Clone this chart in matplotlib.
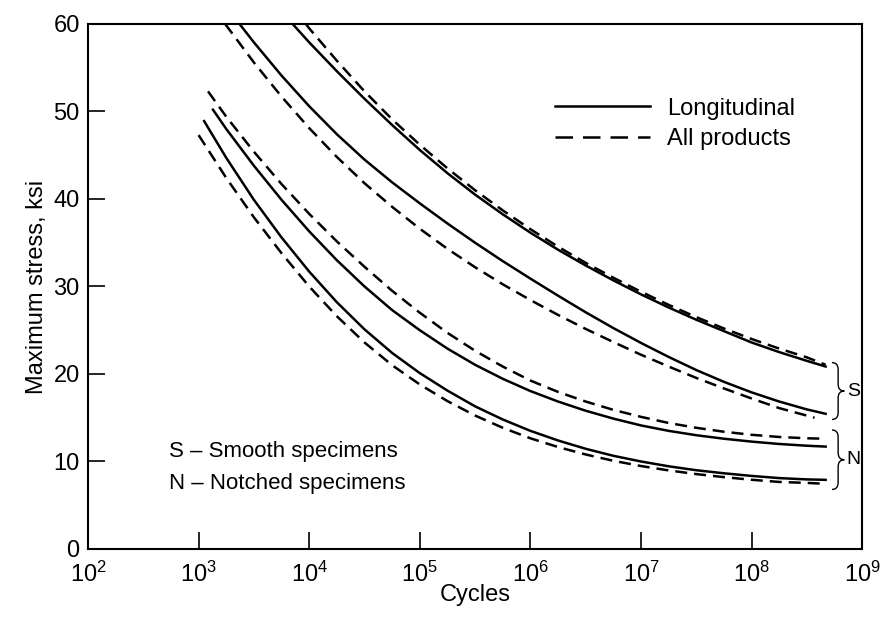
import numpy as np
import matplotlib.pyplot as plt
from matplotlib.path import Path
from matplotlib.patches import PathPatch
import matplotlib.transforms as mtransforms

plt.rcParams['font.family'] = ['Liberation Sans', 'DejaVu Sans']

# log10(cycles) and max stress (ksi)
# S = smooth specimens, N = notched specimens
q = [4.0, 4.25, 4.5, 4.75, 5.0, 5.25, 5.5, 5.75, 6.0, 6.25, 6.5, 6.75,
     7.0, 7.25, 7.5, 7.75, 8.0, 8.25, 8.5]

s_long_hi_x = [3.85] + q + [8.67]
s_long_hi_y = [60, 57.9, 54.6, 51.45, 48.45, 45.6, 42.95, 40.5, 38.25, 36.15, 34.2, 32.4,
               30.7, 29.1, 27.6, 26.2, 24.9, 23.6, 22.5, 21.5, 20.85]
s_all_hi_x = [3.97] + q + [8.67]
s_all_hi_y = [60, 59.5, 55.8, 52.3, 49.1, 46.2, 43.5, 41.0, 38.7, 36.55, 34.55, 32.7,
              31.0, 29.4, 27.9, 26.5, 25.2, 24.0, 22.9, 21.9, 21.05]

s_long_lo_x = [3.37, 3.5, 3.75] + q + [8.67]
s_long_lo_y = [60, 57.9, 54.1, 50.6, 47.4, 44.5, 41.9, 39.5, 37.2, 35.0, 32.9, 30.9,
               28.95, 27.05, 25.25, 23.55, 21.95, 20.45, 19.1, 17.9, 16.85, 15.95, 15.45]
s_all_lo_x = [3.24, 3.5, 3.75] + q[:-1] + [8.57]
s_all_lo_y = [60, 55.6, 51.7, 48.1, 44.8, 41.8, 39.1, 36.6, 34.3, 32.2, 30.25, 28.45,
              26.75, 25.15, 23.65, 22.2, 20.85, 19.55, 18.35, 17.2, 16.1, 15.0]

n_x = [3.25, 3.5, 3.75] + q + [8.67]
n_all_hi_x = [3.085] + n_x
n_all_hi_y = [52.3, 49.4, 45.4, 41.7, 38.3, 35.15, 32.25, 29.5, 27.0, 24.7, 22.65, 20.85,
              19.25, 17.95, 16.85, 15.9, 15.1, 14.4, 13.85, 13.4, 13.05, 12.8, 12.65, 12.6]
n_long_hi_x = [3.13] + n_x
n_long_hi_y = [50.2, 48.0, 43.8, 39.9, 36.3, 33.0, 30.0, 27.3, 25.0, 22.9, 21.05, 19.45,
               18.05, 16.85, 15.8, 14.9, 14.12, 13.5, 13.0, 12.6, 12.27, 12.0, 11.8, 11.7]
n_long_lo_x = [3.05] + n_x
n_long_lo_y = [48.9, 44.7, 39.9, 35.6, 31.7, 28.2, 25.1, 22.4, 20.1, 18.1, 16.3, 14.8,
               13.5, 12.4, 11.45, 10.65, 10.0, 9.45, 9.0, 8.65, 8.35, 8.1, 7.95, 7.9]
n_all_lo_x = [3.0] + n_x
n_all_lo_y = [47.3, 42.4, 37.9, 33.8, 30.0, 26.6, 23.6, 21.0, 18.8, 16.9, 15.25, 13.85,
              12.65, 11.65, 10.8, 10.08, 9.48, 8.98, 8.56, 8.21, 7.91, 7.66, 7.55, 7.45]

solid_curves = [(s_long_hi_x, s_long_hi_y), (s_long_lo_x, s_long_lo_y),
                (n_long_hi_x, n_long_hi_y), (n_long_lo_x, n_long_lo_y)]
dashed_curves = [(s_all_hi_x, s_all_hi_y), (s_all_lo_x, s_all_lo_y),
                 (n_all_hi_x, n_all_hi_y), (n_all_lo_x, n_all_lo_y)]

brace_ranges = {'S': (21.3, 14.8), 'N': (13.6, 6.8)}

fig = plt.figure(figsize=(8.91, 6.31), dpi=100)
ax = fig.add_axes([0.0988, 0.130, 0.8688, 0.832])

lw = 1.8
dash = (0, (4.8, 2.8))
for i, (x, y) in enumerate(solid_curves):
    ax.plot(10 ** np.array(x), y, color='black', lw=lw,
            label='Longitudinal' if i == 0 else None)
for i, (x, y) in enumerate(dashed_curves):
    ax.plot(10 ** np.array(x), y, color='black', lw=lw, linestyle=dash,
            label='All products' if i == 0 else None)

ax.set_xscale('log')
ax.set_xlim(1e2, 1e9)
ax.set_ylim(0, 60)
ax.set_xticks([10.0 ** k for k in range(2, 10)])
ax.minorticks_off()
ax.set_yticks(range(0, 61, 10))
ax.tick_params(direction='in', length=12, width=1.2, labelsize=17)
ax.tick_params(axis='x', pad=9)
ax.tick_params(axis='y', pad=6)
for sp in ax.spines.values():
    sp.set_linewidth(1.5)

ax.set_xlabel('Cycles', fontsize=17, labelpad=-2)
ax.set_ylabel('Maximum stress, ksi', fontsize=17, labelpad=4)

# legend, no frame
handles, labels = ax.get_legend_handles_labels()
leg_dash = plt.Line2D([], [], color='black', lw=lw, linestyle=(0, (7, 4)))
ax.legend([handles[0], leg_dash], labels, loc='upper left',
          bbox_to_anchor=(0.576, 0.90), frameon=False, fontsize=17,
          handlelength=4.0, handletextpad=0.75, labelspacing=0.35)

ax.text(0.104, 0.186, 'S \u2013 Smooth specimens', transform=ax.transAxes,
        fontsize=16, va='center')
ax.text(0.104, 0.124, 'N \u2013 Notched specimens', transform=ax.transAxes,
        fontsize=16, va='center')

# curly braces next to the curve ends
trans = mtransforms.blended_transform_factory(ax.transAxes, ax.transData)
x0, xm, x1 = 0.961, 0.969, 0.977
for name, (yt, yb) in brace_ranges.items():
    ym = (yt + yb) / 2
    d = (yt - yb) * 0.12
    verts = [(x0, yt), (xm, yt), (xm, yt - d),
             (xm, ym + d),
             (xm, ym), (x1, ym),
             (xm, ym), (xm, ym - d),
             (xm, yb + d),
             (xm, yb), (x0, yb)]
    codes = [Path.MOVETO, Path.CURVE3, Path.CURVE3,
             Path.LINETO,
             Path.CURVE3, Path.CURVE3,
             Path.CURVE3, Path.CURVE3,
             Path.LINETO,
             Path.CURVE3, Path.CURVE3]
    ax.add_patch(PathPatch(Path(verts, codes), fill=False, lw=1.0,
                           transform=trans, clip_on=False))
    ax.text(x1 + 0.003, ym, name, transform=trans, fontsize=14, va='center')

fig.savefig('out.png', dpi=100)
